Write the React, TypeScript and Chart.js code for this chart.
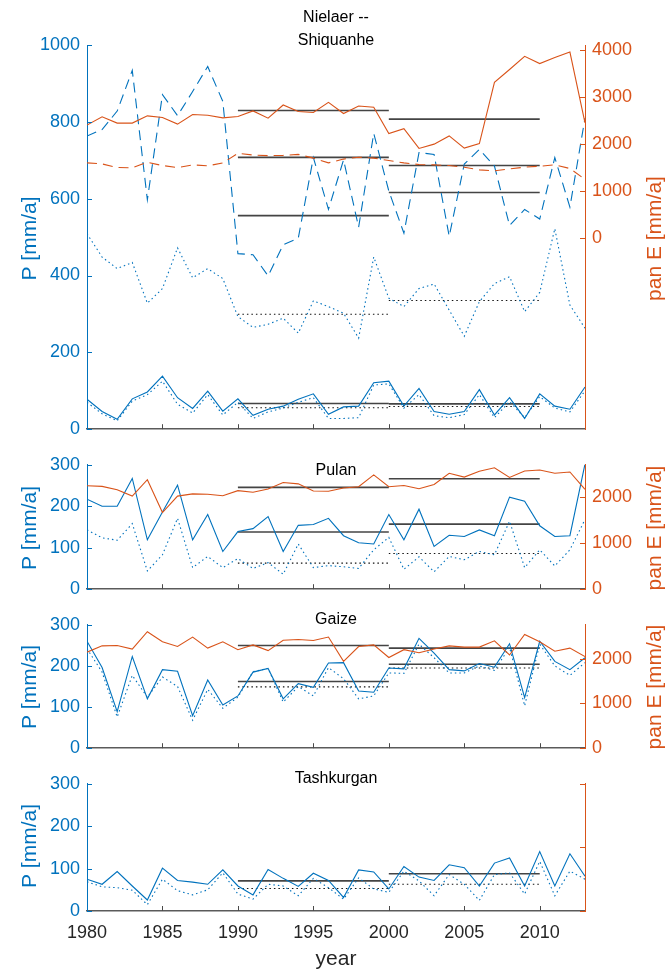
import React, { useEffect, useRef } from "react";
import { Chart, registerables } from "chart.js";
Chart.register(...registerables);

const years = [1980,1981,1982,1983,1984,1985,1986,1987,1988,1989,1990,1991,1992,1993,1994,1995,1996,1997,1998,1999,2000,2001,2002,2003,2004,2005,2006,2007,2008,2009,2010,2011,2012,2013];
const xTicks = [1980,1985,1990,1995,2000,2005,2010];
const periods = [[1990, 2000], [2000, 2010]];

// Panel 1: Nielaer -- Shiquanhe
const nielaerP = [763,780,828,934,597,871,816,879,944,853,457,454,399,480,497,707,572,701,526,770,620,510,720,715,502,690,728,685,530,572,547,707,578,810];
const nielaerPcorr = [509,448,418,434,328,366,472,394,418,392,293,265,273,289,250,334,319,302,237,448,341,319,366,378,310,242,332,379,397,306,356,522,323,263];
const shiquanheP = [78,46,26,79,97,138,82,54,99,47,79,36,52,60,78,92,39,58,60,121,125,60,106,46,39,46,103,37,82,28,92,60,52,110];
const shiquanhePcorr = [70,40,22,73,90,125,65,42,90,37,70,28,45,55,70,82,28,28,30,115,118,55,90,35,30,38,90,30,72,30,85,55,45,100];
const shiquanheE = [2401,2576,2443,2443,2597,2562,2422,2625,2611,2555,2583,2702,2548,2827,2688,2667,2883,2646,2806,2778,2220,2325,1906,1997,2171,1913,2010,3309,3581,3860,3707,3833,3951,2450];
const nielaerE = [1599,1578,1501,1494,1613,1543,1501,1557,1536,1599,1801,1766,1752,1759,1780,1700,1600,1680,1720,1700,1650,1599,1564,1557,1543,1508,1452,1431,1473,1508,1529,1557,1480,1250];
const meanShiquanheE = [2709, 2527];
const meanNielaerE = [1717, 1543];
const meanNielaerP = [556, 616];
const meanNielaerPcorr = [299, 335];
const meanShiquanheP = [67, 66];
const meanShiquanhePcorr = [56, 59];

// Panel 2: Pulan
const pulanP = [217,200,200,267,119,186,251,119,180,91,139,146,175,91,154,156,171,129,112,109,180,119,193,103,130,127,143,129,222,212,153,127,129,302];
const pulanPcorr = [143,124,118,158,44,83,171,52,79,52,74,50,64,36,109,52,57,54,50,95,125,48,78,42,79,71,91,83,164,52,95,56,95,168];
const pulanE = [2253,2239,2168,2028,2386,1670,2028,2077,2070,2035,2147,2112,2182,2323,2295,2140,2133,2204,2232,2491,2232,2260,2189,2281,2526,2442,2568,2646,2435,2575,2596,2526,2554,2175];
const meanPulanE = [2218, 2407];
const meanPulanP = [138, 157];
const meanPulanPcorr = [63, 86];

// Panel 3: Gaize
const gaizeP = [260,196,89,223,120,191,187,79,166,105,127,185,194,120,157,148,207,208,139,136,195,193,267,231,191,188,206,197,254,123,260,211,191,220];
const gaizePcorr = [242,185,76,177,124,173,150,68,143,97,124,186,194,112,150,127,196,169,120,127,183,182,253,220,183,183,200,189,245,103,253,200,177,208];
const gaizeE = [2148,2289,2296,2218,2606,2380,2275,2486,2239,2380,2204,2310,2183,2415,2430,2408,2486,1944,2275,2310,2028,2204,2134,2218,2289,2261,2261,2401,2085,2542,2380,2169,2239,2049];
const meanGaizeE = [2296, 2239];
const meanGaizeP = [162, 204];
const meanGaizePcorr = [149, 195];

// Panel 4: Tashkurgan
const tashP = [75,63,93,59,26,101,72,68,63,97,59,38,98,77,58,89,72,32,97,92,52,105,80,72,109,102,59,113,125,59,140,59,135,82];
const tashPcorr = [69,57,55,49,15,75,48,38,50,90,40,28,63,59,36,77,55,28,78,52,44,94,71,36,86,63,25,86,90,40,117,36,94,75];
const meanTashP = [71, 88];
const meanTashPcorr = [53, 63];

const leftTicks1 = [0, 200, 400, 600, 800, 1000];
const rightTicks1 = [0, 1000, 2000, 3000, 4000];
const leftTicks = [0, 100, 200, 300];
const rightTicks = [0, 1000, 2000];
const rightTicksEmpty = [0, 1, 2];

const BLUE = "#0072BD";
const ORANGE = "#D95319";
const FONT = "'Liberation Sans', Arial, Helvetica, sans-serif";
const TICK_SIZE = 18;
const LABEL_SIZE = 21;
const TITLE_SIZE = 16;

const DOT = [1.5, 3];
const DASH = [10, 6];

type Txt = { text: string; x: number; y: number; size: number; color: string; rot?: number };

function series(arr: number[], axis: string, color: string, dash: number[] = [], width = 1.1) {
  return {
    data: years.map((x, i) => ({ x, y: arr[i] })),
    yAxisID: axis,
    borderColor: color,
    borderWidth: width,
    borderDash: dash,
    pointRadius: 0,
    fill: false,
  };
}

function means(vals: number[], axis: string, dotted: boolean) {
  return periods.map((p, i) => ({
    data: [{ x: p[0], y: vals[i] }, { x: p[1], y: vals[i] }],
    yAxisID: axis,
    borderColor: dotted ? "#111" : "rgba(35,35,35,0.85)",
    borderWidth: dotted ? 1.1 : 1.6,
    borderDash: dotted ? DOT : [],
    pointRadius: 0,
    fill: false,
  }));
}

type Panel = {
  canvasTop: number; canvasH: number; plotTop: number; plotBot: number;
  leftMax: number; rightMin: number; rightMax: number;
  lt: number[]; rt: number[]; rightLabels: boolean; showX: boolean;
  datasets: any[]; texts: Txt[];
};

const LEFT = 87, RIGHT = 585, W = 665;
const CX = (LEFT + RIGHT) / 2;

function axisTexts(top: number, bot: number, right: boolean): Txt[] {
  const mid = (top + bot) / 2;
  const t: Txt[] = [{ text: "P [mm/a]", x: 30, y: mid, size: LABEL_SIZE, color: BLUE, rot: -Math.PI / 2 }];
  if (right) t.push({ text: "pan E [mm/a]", x: 655, y: mid, size: LABEL_SIZE, color: ORANGE, rot: -Math.PI / 2 });
  return t;
}

const panels: Panel[] = [
  {
    canvasTop: 0, canvasH: 447, plotTop: 45, plotBot: 432,
    leftMax: 1000, rightMin: -4050, rightMax: 4100, lt: leftTicks1, rt: rightTicks1, rightLabels: true, showX: false,
    datasets: [
      series(shiquanheE, "y1", ORANGE),
      series(nielaerE, "y1", ORANGE, DASH),
      series(nielaerP, "y", BLUE, DASH),
      series(nielaerPcorr, "y", BLUE, DOT),
      series(shiquanheP, "y", BLUE),
      series(shiquanhePcorr, "y", BLUE, DOT),
      ...means(meanShiquanheE, "y1", false),
      ...means(meanNielaerE, "y1", false),
      ...means(meanNielaerP, "y", false),
      ...means(meanNielaerPcorr, "y", true),
      ...means(meanShiquanheP, "y", false),
      ...means(meanShiquanhePcorr, "y", true),
    ],
    texts: [
      { text: "Nielaer --", x: CX, y: 18, size: TITLE_SIZE, color: "#000" },
      { text: "Shiquanhe", x: CX, y: 41, size: TITLE_SIZE, color: "#000" },
      ...axisTexts(45, 432, true),
    ],
  },
  {
    canvasTop: 447, canvasH: 160, plotTop: 463.5, plotBot: 592.5,
    leftMax: 300, rightMin: 0, rightMax: 2710, lt: leftTicks, rt: rightTicks, rightLabels: true, showX: false,
    datasets: [
      series(pulanE, "y1", ORANGE),
      series(pulanP, "y", BLUE),
      series(pulanPcorr, "y", BLUE, DOT),
      ...means(meanPulanE, "y1", false),
      ...means(meanPulanP, "y", false),
      ...means(meanPulanPcorr, "y", true),
    ],
    texts: [
      { text: "Pulan", x: CX, y: 471, size: TITLE_SIZE, color: "#000" },
      ...axisTexts(463.5, 592.5, true),
    ],
  },
  {
    canvasTop: 607, canvasH: 159, plotTop: 622, plotBot: 752,
    leftMax: 300, rightMin: 0, rightMax: 2760, lt: leftTicks, rt: rightTicks, rightLabels: true, showX: false,
    datasets: [
      series(gaizeE, "y1", ORANGE),
      series(gaizeP, "y", BLUE),
      series(gaizePcorr, "y", BLUE, DOT),
      ...means(meanGaizeE, "y1", false),
      ...means(meanGaizeP, "y", false),
      ...means(meanGaizePcorr, "y", true),
    ],
    texts: [
      { text: "Gaize", x: CX, y: 620, size: TITLE_SIZE, color: "#000" },
      ...axisTexts(622, 752, true),
    ],
  },
  {
    canvasTop: 766, canvasH: 204, plotTop: 781, plotBot: 911,
    leftMax: 300, rightMin: 0, rightMax: 2, lt: leftTicks, rt: rightTicksEmpty, rightLabels: false, showX: true,
    datasets: [
      series(tashP, "y", BLUE),
      series(tashPcorr, "y", BLUE, DOT),
      ...means(meanTashP, "y", false),
      ...means(meanTashPcorr, "y", true),
    ],
    texts: [
      { text: "Tashkurgan", x: CX, y: 779, size: TITLE_SIZE, color: "#000" },
      { text: "year", x: CX, y: 959, size: LABEL_SIZE, color: "#262626" },
      ...axisTexts(781, 911, false),
    ],
  },
];

function makeDecor(p: Panel) {
  return {
    id: "decor",
    afterDraw(chart: any) {
      const ctx = chart.ctx;
      const { left, right, bottom } = chart.chartArea;
      const sx = chart.scales.x, sy = chart.scales.y, sy1 = chart.scales.y1;
      ctx.save();
      ctx.lineWidth = 1;
      ctx.strokeStyle = "#4a4a4a";
      sx.ticks.forEach((t: any) => {
        const px = Math.round(sx.getPixelForValue(t.value)) + 0.5;
        if (px <= left + 2 || px >= right - 2) return;
        ctx.beginPath(); ctx.moveTo(px, bottom); ctx.lineTo(px, bottom - 5); ctx.stroke();
      });
      ctx.strokeStyle = BLUE;
      sy.ticks.forEach((t: any) => {
        const py = Math.round(sy.getPixelForValue(t.value)) + 0.5;
        ctx.beginPath(); ctx.moveTo(left, py); ctx.lineTo(left + 5, py); ctx.stroke();
      });
      ctx.strokeStyle = ORANGE;
      sy1.ticks.forEach((t: any) => {
        const py = Math.round(sy1.getPixelForValue(t.value)) + 0.5;
        ctx.beginPath(); ctx.moveTo(right, py); ctx.lineTo(right - 5, py); ctx.stroke();
      });
      p.texts.forEach((t) => {
        ctx.save();
        ctx.font = `${t.size}px ${FONT}`;
        ctx.fillStyle = t.color;
        ctx.textAlign = "center";
        ctx.textBaseline = "middle";
        ctx.translate(t.x, t.y - p.canvasTop);
        if (t.rot) ctx.rotate(t.rot);
        ctx.fillText(t.text, 0, 0);
        ctx.restore();
      });
      ctx.restore();
    },
  };
}

function buildChart(canvas: HTMLCanvasElement, p: Panel) {
  const tickFont = { family: FONT, size: TICK_SIZE };
  return new Chart(canvas, {
    type: "line",
    data: { datasets: p.datasets as any },
    options: {
      animation: false,
      responsive: false,
      devicePixelRatio: 1,
      layout: { padding: { top: p.plotTop - p.canvasTop, left: 0, right: 0, bottom: 0 } },
      plugins: { legend: { display: false }, tooltip: { enabled: false }, title: { display: false } },
      elements: { point: { radius: 0 }, line: { tension: 0 } },
      scales: {
        x: {
          type: "linear", min: 1980, max: 2013,
          grid: { display: false, drawTicks: false },
          border: { display: true, color: "#5a5a5a", width: 1.5 },
          ticks: { display: p.showX, font: tickFont, color: "#262626", padding: 11, autoSkip: false, maxRotation: 0, callback: (v: any) => String(v) },
          afterBuildTicks: (s: any) => { s.ticks = xTicks.map((v) => ({ value: v })); },
          afterFit: (s: any) => { s.height = p.canvasTop + p.canvasH - p.plotBot; },
        },
        y: {
          type: "linear", position: "left", min: 0, max: p.leftMax,
          grid: { display: false, drawTicks: false },
          border: { display: true, color: BLUE, width: 1 },
          ticks: { font: tickFont, color: BLUE, padding: 7, autoSkip: false, callback: (v: any) => String(v) },
          afterBuildTicks: (s: any) => { s.ticks = p.lt.map((v) => ({ value: v })); },
          afterFit: (s: any) => { s.width = LEFT; },
        },
        y1: {
          type: "linear", position: "right", min: p.rightMin, max: p.rightMax,
          grid: { display: false, drawTicks: false },
          border: { display: true, color: ORANGE, width: 1 },
          ticks: { display: p.rightLabels, font: tickFont, color: ORANGE, padding: 7, autoSkip: false, callback: (v: any) => String(v) },
          afterBuildTicks: (s: any) => { s.ticks = p.rt.map((v) => ({ value: v })); },
          afterFit: (s: any) => { s.width = W - RIGHT; },
        },
      },
    } as any,
    plugins: [makeDecor(p)],
  });
}

function PanelChart({ p }: { p: Panel }) {
  const ref = useRef<HTMLCanvasElement | null>(null);
  useEffect(() => {
    if (!ref.current) return;
    const c = buildChart(ref.current, p);
    return () => c.destroy();
  }, [p]);
  return (
    <canvas
      ref={ref}
      width={W}
      height={p.canvasH}
      style={{ position: "absolute", left: 0, top: p.canvasTop, width: W, height: p.canvasH }}
    />
  );
}

export default function App() {
  return (
    <div style={{ position: "absolute", left: 0, top: 0, width: W, height: 970, background: "#fff" }}>
      {panels.map((p, i) => (
        <PanelChart key={i} p={p} />
      ))}
    </div>
  );
}
